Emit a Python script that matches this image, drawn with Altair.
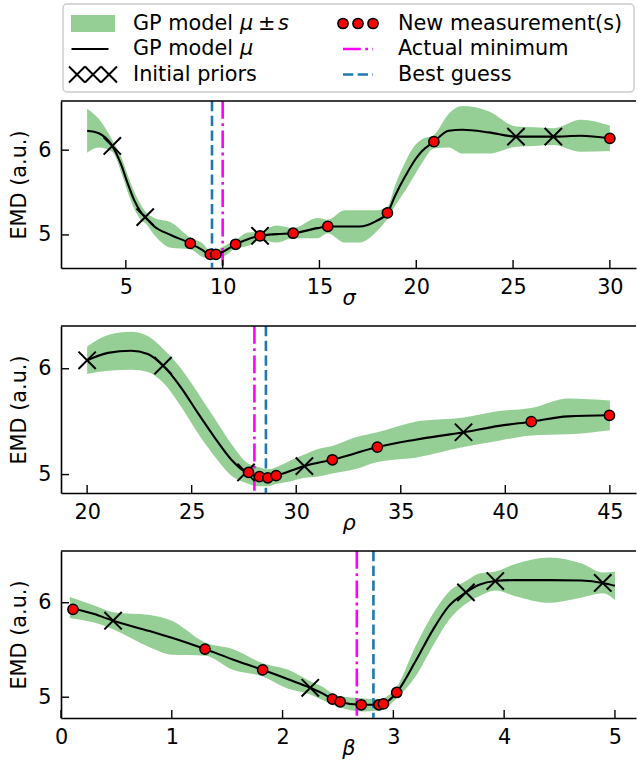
import altair as alt
import pandas as pd

FONT = "DejaVu Sans"
FS = 20.8
W, H = 575, 167
GREEN = "#2ca02c"
BLUE = "#1f77b4"
MAGENTA = "#ff00ff"

# ---------------- panel 1 : sigma ----------------
sig_x = [3.0, 3.6, 4.3, 4.74, 5.09, 5.43, 5.77, 6.0, 6.47, 7.32, 8.33, 8.9, 9.36, 9.65, 10.0,
         10.67, 11.3, 11.93, 12.8, 13.64, 14.9, 15.43, 16.3, 17.05, 17.9, 18.51, 18.9, 19.45,
         19.95, 20.3, 20.91, 21.68, 22.37, 23.74, 25.15, 26.1, 27.08, 28.5, 30.0]
sig_mu = [6.23, 6.20, 6.05, 5.84, 5.61, 5.41, 5.27, 5.21, 5.10, 5.00, 4.90, 4.83, 4.77, 4.77, 4.80,
          4.89, 4.95, 4.99, 5.01, 5.02, 5.08, 5.10, 5.10, 5.10, 5.16, 5.26, 5.46, 5.70,
          5.89, 5.99, 6.10, 6.23, 6.24, 6.21, 6.16, 6.16, 6.16, 6.17, 6.14]
sig_s = [0.26, 0.17, 0.07, 0.09, 0.10, 0.10, 0.09, 0.07, 0.10, 0.15, 0.07, 0.08, 0.05, 0.05, 0.06,
         0.05, 0.08, 0.05, 0.10, 0.06, 0.12, 0.08, 0.19, 0.19, 0.13, 0.07, 0.12, 0.17,
         0.17, 0.14, 0.08, 0.20, 0.28, 0.25, 0.12, 0.11, 0.10, 0.19, 0.15]
sig_prior_x = [4.3, 6.0, 11.93, 25.15, 27.08]
sig_prior_y = [6.05, 5.21, 4.99, 6.16, 6.16]
sig_new_x = [8.33, 9.36, 9.65, 10.67, 11.93, 13.64, 15.43, 18.51, 20.91, 30.0]
sig_new_y = [4.90, 4.77, 4.77, 4.89, 4.99, 5.02, 5.10, 5.26, 6.10, 6.14]
sig_actual, sig_best = 10.0, 9.45
sig_xdom, sig_ydom = [1.65, 31.35], [4.61, 6.58]
sig_xticks = [5, 10, 15, 20, 25, 30]

# ---------------- panel 2 : rho ----------------
rho_x = [20.0, 21.0, 22.1, 22.9, 23.63, 24.5, 25.3, 26.1, 26.9, 27.6, 28.24, 28.64, 29.04, 29.8,
         30.39, 31.0, 31.73, 32.8, 33.88, 35.7, 38.0, 39.7, 41.24, 43.0, 45.0]
rho_mu = [6.08, 6.15, 6.17, 6.14, 6.03, 5.82, 5.58, 5.35, 5.14, 5.02, 4.98, 4.97, 4.99, 5.04,
          5.08, 5.11, 5.14, 5.20, 5.26, 5.33, 5.40, 5.46, 5.50, 5.55, 5.56]
rho_s = [0.13, 0.17, 0.18, 0.17, 0.16, 0.18, 0.19, 0.18, 0.15, 0.10, 0.09, 0.08, 0.08, 0.10,
         0.11, 0.13, 0.13, 0.15, 0.14, 0.17, 0.14, 0.14, 0.13, 0.17, 0.14]
rho_prior_x = [20.0, 23.63, 27.6, 30.39, 38.0]
rho_prior_y = [6.08, 6.03, 5.02, 5.08, 5.40]
rho_new_x = [27.72, 28.24, 28.64, 29.04, 31.73, 33.88, 41.24, 44.98]
rho_new_y = [5.02, 4.98, 4.97, 4.99, 5.14, 5.26, 5.50, 5.56]
rho_actual, rho_best = 28.0, 28.55
rho_xdom, rho_ydom = [18.75, 46.25], [4.826, 6.404]
rho_xticks = [20, 25, 30, 35, 40, 45]

# ---------------- panel 3 : beta ----------------
bet_x = [0.08, 0.3, 0.47, 0.8, 1.0, 1.3, 1.55, 1.82, 2.05, 2.25, 2.36, 2.45, 2.52, 2.71, 2.87,
         2.91, 3.03, 3.2, 3.35, 3.5, 3.655, 3.775, 3.92, 4.1, 4.41, 4.7, 4.89, 5.0]
bet_mu = [5.95, 5.88, 5.81, 5.70, 5.63, 5.51, 5.40, 5.29, 5.19, 5.10, 5.04, 4.98, 4.95, 4.92, 4.92,
          4.93, 5.05, 5.38, 5.70, 5.965, 6.11, 6.19, 6.23, 6.24, 6.24, 6.235, 6.21, 6.18]
bet_s = [0.11, 0.09, 0.09, 0.17, 0.18, 0.07, 0.11, 0.07, 0.10, 0.07, 0.07, 0.06, 0.06, 0.07, 0.06,
         0.06, 0.06, 0.16, 0.17, 0.15, 0.12, 0.12, 0.10, 0.17, 0.24, 0.18, 0.11, 0.15]
bet_prior_x = [0.47, 2.25, 3.655, 3.92, 4.89]
bet_prior_y = [5.81, 5.10, 6.11, 6.23, 6.21]
bet_new_x = [0.108, 1.30, 1.82, 2.45, 2.52, 2.71, 2.87, 2.91, 3.03]
bet_new_y = [5.93, 5.51, 5.29, 4.98, 4.95, 4.92, 4.92, 4.93, 5.05]
bet_actual, bet_best = 2.67, 2.82
bet_xdom, bet_ydom = [0.0, 5.19], [4.78, 6.548]
bet_xticks = [0, 1, 2, 3, 4, 5]

y_ticks = [5, 6]

# ---------------- legend ----------------
leg_labels = ["GP model", "GP model", "Initial priors",
              "New measurement(s)", "Actual minimum", "Best guess"]
leg_kind = ["band", "line", "prior", "new", "actual", "best"]
leg_col = [0, 0, 0, 1, 1, 1]
leg_row = [0, 1, 2, 0, 1, 2]
# math pieces of the first two labels: "μ ± s" and "μ"
math_text = ["μ", "μ", "±", "s"]
math_row = [0, 1, 0, 0]
math_italic = [True, True, False, True]
math_dx = [147, 147, 165, 185]

X_PATH = "M-1,-1L1,1M-1,1L1,-1"
XXX_PATH = ("M-1,-0.333L-0.333,0.333M-1,0.333L-0.333,-0.333"
            "M-0.333,-0.333L0.333,0.333M-0.333,0.333L0.333,-0.333"
            "M0.333,-0.333L1,0.333M0.333,0.333L1,-0.333")
HLINE = "M-1,0H1"
RECT = "M-1,-0.39H1V0.39H-1Z"


def axis_x(ticks, title):
    return alt.Axis(values=ticks, title=title, ticks=False, grid=False, domain=True,
                    domainColor="black", domainWidth=1.6, labelFont=FONT, labelFontSize=FS,
                    labelColor="black", labelPadding=9, labelFlush=False, labelOverlap=False,
                    titleFont=FONT, titleFontSize=FS, titleFontStyle="italic",
                    titleFontWeight="normal", titleColor="black", titlePadding=-8)


def axis_y():
    return alt.Axis(values=y_ticks, title="EMD (a.u.)", ticks=False, grid=False, domain=True,
                    domainColor="black", domainWidth=1.6, labelFont=FONT, labelFontSize=FS,
                    labelColor="black", labelPadding=10, labelFlush=False, labelOverlap=False,
                    titleFont=FONT, titleFontSize=FS, titleFontWeight="normal",
                    titleColor="black", titlePadding=8)


def panel(xs, mu, sd, px, py, nx, ny, actual, best, xdom, ydom, xticks, title):
    xsc = alt.Scale(domain=xdom, nice=False, zero=False)
    ysc = alt.Scale(domain=ydom, nice=False, zero=False)
    ax, ay = axis_x(xticks, title), axis_y()

    def X(f="x"):
        return alt.X(f"{f}:Q", scale=xsc, axis=ax)

    def Y(f="y"):
        return alt.Y(f"{f}:Q", scale=ysc, axis=ay)

    curve = pd.DataFrame({"x": xs, "y": mu,
                          "lo": [m - s for m, s in zip(mu, sd)],
                          "hi": [m + s for m, s in zip(mu, sd)]})
    band = alt.Chart(curve).mark_area(color=GREEN, opacity=0.5, interpolate="monotone").encode(
        x=X(), y=Y("lo"), y2="hi:Q")
    mean = alt.Chart(curve).mark_line(color="black", strokeWidth=2.1, interpolate="monotone").encode(
        x=X(), y=Y())
    act = alt.Chart(pd.DataFrame({"x": [actual]})).mark_rule(
        color=MAGENTA, strokeWidth=2.6, strokeDash=[17.8, 4.4, 2.8, 4.4]).encode(x=X())
    bst = alt.Chart(pd.DataFrame({"x": [best]})).mark_rule(
        color=BLUE, strokeWidth=2.6, strokeDash=[10.3, 4.4]).encode(x=X())
    pri = alt.Chart(pd.DataFrame({"x": px, "y": py})).mark_point(
        shape=X_PATH, size=300, filled=False, stroke="black", strokeWidth=2, opacity=1).encode(
        x=X(), y=Y())
    new = alt.Chart(pd.DataFrame({"x": nx, "y": ny})).mark_point(
        shape="circle", size=105, filled=True, fill="red", stroke="black", strokeWidth=1.5,
        opacity=1).encode(x=X(), y=Y())
    xt = alt.Chart(pd.DataFrame({"x": xticks})).mark_rule(color="black", strokeWidth=1.4).encode(
        x=X(), y=alt.value(H), y2=alt.value(H - 8))
    yt = alt.Chart(pd.DataFrame({"y": y_ticks})).mark_rule(color="black", strokeWidth=1.4).encode(
        y=Y(), x=alt.value(0), x2=alt.value(8))
    top = alt.Chart(pd.DataFrame({"a": [0]})).mark_rule(color="black", strokeWidth=1.6).encode(
        x=alt.value(0), x2=alt.value(W), y=alt.value(0))
    return alt.layer(band, act, bst, mean, pri, new, xt, yt, top)


def legend():
    leg = pd.DataFrame({"label": leg_labels, "kind": leg_kind, "col": leg_col, "row": leg_row})
    LX = alt.X("col:Q", scale=alt.Scale(domain=[0, 1], range=[32, 297]), axis=None)
    LY = alt.Y("row:Q", scale=alt.Scale(domain=[0, 2], range=[-77.5, -26.5]), axis=None)
    base = alt.Chart(leg).encode(x=LX, y=LY)
    box = alt.Chart(pd.DataFrame({"a": [0]})).mark_rect(
        fill="white", stroke="#cccccc", strokeWidth=1.5, cornerRadius=4).encode(
        x=alt.value(2), x2=alt.value(573), y=alt.value(-97), y2=alt.value(-9))

    def only(k):
        return base.transform_filter(alt.datum.kind == k)

    s_band = only("band").mark_point(shape=RECT, size=44 * 44, filled=True, fill=GREEN,
                                     opacity=0.5, strokeWidth=0)
    s_line = only("line").mark_point(shape=HLINE, size=37 * 37, filled=False, stroke="black",
                                     strokeWidth=2.1, opacity=1, xOffset=-3)
    s_prior = only("prior").mark_point(shape=XXX_PATH, size=48 * 48, filled=False, stroke="black",
                                       strokeWidth=2, opacity=1)
    s_new = [only("new").mark_point(shape="circle", size=105, filled=True, fill="red",
                                    stroke="black", strokeWidth=1.5, opacity=1, xOffset=o)
             for o in (-15, 0, 15)]
    s_act = only("actual").mark_point(shape=HLINE, size=30 * 30, filled=False, stroke=MAGENTA,
                                      strokeWidth=2.6, strokeDash=[17.8, 4.4, 2.8, 4.4], opacity=1)
    s_best = only("best").mark_point(shape=HLINE, size=30 * 30, filled=False, stroke=BLUE,
                                     strokeWidth=2.6, strokeDash=[10.3, 4.4], opacity=1)
    txt = base.mark_text(align="left", baseline="middle", dx=40, font=FONT, fontSize=FS,
                         color="black").encode(text="label:N")
    math = pd.DataFrame({"t": math_text, "row": math_row, "col": [0] * len(math_text)})
    pieces = []
    for i in range(len(math_text)):
        pieces.append(
            alt.Chart(math.iloc[[i]]).mark_text(
                align="left", baseline="middle", dx=math_dx[i], font=FONT, fontSize=FS,
                fontStyle="italic" if math_italic[i] else "normal", color="black").encode(
                x=LX, y=LY, text="t:N"))
    return alt.layer(box, s_band, s_line, s_prior, *s_new, s_act, s_best, txt, *pieces)


p1 = alt.layer(
    panel(sig_x, sig_mu, sig_s, sig_prior_x, sig_prior_y, sig_new_x, sig_new_y,
          sig_actual, sig_best, sig_xdom, sig_ydom, sig_xticks, "σ"),
    legend()).resolve_scale(x="independent", y="independent").properties(width=W, height=H)
p2 = panel(rho_x, rho_mu, rho_s, rho_prior_x, rho_prior_y, rho_new_x, rho_new_y,
           rho_actual, rho_best, rho_xdom, rho_ydom, rho_xticks, "ρ").properties(width=W, height=H)
p3 = panel(bet_x, bet_mu, bet_s, bet_prior_x, bet_prior_y, bet_new_x, bet_new_y,
           bet_actual, bet_best, bet_xdom, bet_ydom, bet_xticks, "β").properties(width=W, height=H)

chart = alt.vconcat(p1, p2, p3, spacing=58, bounds="flush").configure_view(
    stroke=None).properties(padding={"left": 8, "top": 3, "right": 0, "bottom": 0},
                            background="white")

chart.save("out.html", embed_options={"renderer": "svg", "actions": False})
